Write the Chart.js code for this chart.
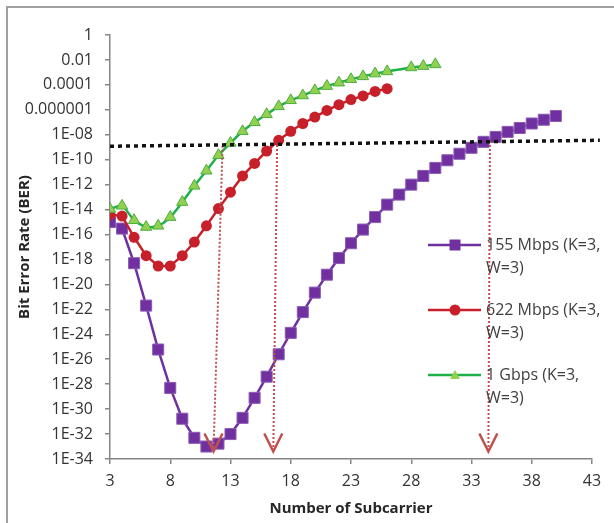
<!DOCTYPE html>
<html>
<head>
<meta charset="utf-8">
<script src="https://cdn.jsdelivr.net/npm/chart.js@4.4.0/dist/chart.umd.min.js"></script>
<style>
  html, body { margin: 0; padding: 0; background: #fff; }
  #wrap { width: 614px; height: 523px; position: relative; }
</style>
</head>
<body>
<div id="wrap"><canvas id="berChart"></canvas></div>
<script>
// Data
const xTicks = [3, 8, 13, 18, 23, 28, 33, 38, 43];
const yTickExps = [0, -2, -4, -6, -8, -10, -12, -14, -16, -18, -20, -22, -24, -26, -28, -30, -32, -34];

const x155 = [3, 4, 5, 6, 7, 8, 9, 10, 11, 12, 13, 14, 15, 16, 17, 18, 19, 20, 21, 22,
              23, 24, 25, 26, 27, 28, 29, 30, 31, 32, 33, 34, 35, 36, 37, 38, 39, 40];
const ber155 = [1e-15, 3e-16, 5e-19, 2e-22, 6e-26, 5e-29, 1.7e-31, 5e-33, 1e-33, 1.7e-33,
                1e-32, 2e-31, 8e-30, 4e-28, 2.5e-26, 1.3e-24, 6e-23, 2.2e-21, 6e-20, 1.3e-18,
                2e-17, 2.5e-16, 2.5e-15, 2.5e-14, 1.6e-13, 1e-12, 5e-12, 2.2e-11, 9e-11, 3e-10,
                9e-10, 2.7e-9, 6.7e-9, 1.7e-8, 3.5e-8, 8e-8, 1.6e-7, 3.2e-7];

const x622 = [3, 4, 5, 6, 7, 8, 9, 10, 11, 12, 13, 14, 15, 16, 17, 18, 19, 20, 21, 22, 23, 24, 25, 26];
const ber622 = [4e-15, 3e-15, 6e-17, 2e-18, 3e-19, 3e-19, 2e-18, 2.5e-17, 5e-16, 1.2e-14,
                2.5e-13, 5e-12, 5e-11, 5e-10, 3.6e-9, 1.9e-8, 8e-8, 2.6e-7, 9e-7, 2.6e-6,
                6.6e-6, 1.3e-5, 3e-5, 5e-5];

const x1g = [3, 4, 5, 6, 7, 8, 9, 10, 11, 12, 13, 14, 15, 16, 17, 18, 19, 20, 21, 22, 23, 24, 25, 26, 28, 29, 30];
const ber1g = [1.1e-14, 2e-14, 1.4e-15, 4e-16, 5e-16, 2.5e-15, 4e-14, 8e-13, 1.3e-11, 2.3e-10,
               2.2e-9, 1.9e-8, 1e-7, 4.4e-7, 1.9e-6, 5.8e-6, 1.4e-5, 3.6e-5, 8e-5, 1.5e-4,
               2.8e-4, 4.8e-4, 8e-4, 1.2e-3, 2.5e-3, 3.2e-3, 4.4e-3];

// threshold line and the three read-off arrows
const thresholdX = [3, 43.65];
const thresholdBer = [1.2e-9, 3.6e-9];
const arrowX = [[12.34, 11.59], [16.87, 16.55], [34.53, 34.4]];
const arrowBer = [[1.3e-9, 4e-34], [1.5e-9, 4e-34], [3.1e-9, 4e-34]];

const seriesNames = [['155 Mbps (K=3,', 'W=3)'], ['622 Mbps (K=3,', 'W=3)'], ['1 Gbps (K=3,', 'W=3)']];

const FONT = "'Open Sans', 'Noto Sans', sans-serif";
const AXIS_GREY = '#868686';
const ARROW_RED = '#c0504d';

const pts = (xs, ys) => xs.map((x, i) => ({ x, y: ys[i] }));

function fmtBer(v) {
    const e = Math.round(Math.log10(v));
    if (e >= -6) return v.toFixed(-e);
    return '1E-' + String(-e).padStart(2, '0');
}

const datasets = [
    {
        label: seriesNames[0].join(' '), legendLines: seriesNames[0],
        data: pts(x155, ber155), order: 3,
        borderColor: '#7030a0', backgroundColor: '#7030a0', borderWidth: 2.5,
        pointStyle: 'rect', pointRadius: 7.8, pointBorderColor: '#8b5bb5', pointBorderWidth: 1
    },
    {
        label: seriesNames[1].join(' '), legendLines: seriesNames[1],
        data: pts(x622, ber622), order: 2,
        borderColor: '#c8202a', backgroundColor: '#c8202a', borderWidth: 2.5,
        pointStyle: 'circle', pointRadius: 5.5, pointBorderWidth: 0
    },
    {
        label: seriesNames[2].join(' '), legendLines: seriesNames[2],
        data: pts(x1g, ber1g), order: 1, tension: 0.25,
        borderColor: '#1fb04a', backgroundColor: '#92d050', borderWidth: 2.5,
        pointStyle: 'triangle', pointRadius: 6.5, pointBorderColor: '#4caf3f', pointBorderWidth: 1
    },
    {
        label: 'threshold', data: pts(thresholdX, thresholdBer), order: 0, clip: false,
        borderColor: '#111', borderWidth: 3.5, borderDash: [4, 4], pointRadius: 0
    }
];
arrowX.forEach((xs, i) => {
    datasets.push({
        label: 'arrow' + i, isArrow: true, data: pts(xs, arrowBer[i]), order: 0,
        borderColor: ARROW_RED, borderWidth: 2, borderDash: [2, 2], pointRadius: 0
    });
});

// border of the picture frame
const framePlugin = {
    id: 'frame',
    beforeDraw(chart) {
        const ctx = chart.ctx;
        ctx.save();
        ctx.fillStyle = '#fff';
        ctx.fillRect(0, 0, chart.width, chart.height);
        ctx.strokeStyle = '#a0a0a0';
        ctx.lineWidth = 2;
        ctx.beginPath();
        ctx.moveTo(7, chart.height);
        ctx.lineTo(7, 7);
        ctx.lineTo(chart.width, 7);
        ctx.stroke();
        ctx.restore();
    }
};

// open V arrowheads at the bottom of the dotted read-off lines
const arrowPlugin = {
    id: 'arrowHeads',
    afterDatasetsDraw(chart) {
        const ctx = chart.ctx;
        ctx.save();
        ctx.strokeStyle = ARROW_RED;
        ctx.lineWidth = 2.5;
        chart.data.datasets.forEach((ds, i) => {
            if (!ds.isArrow) return;
            const meta = chart.getDatasetMeta(i);
            const tip = meta.data[meta.data.length - 1];
            ctx.beginPath();
            ctx.moveTo(tip.x - 9, tip.y - 18);
            ctx.lineTo(tip.x, tip.y);
            ctx.lineTo(tip.x + 9, tip.y - 18);
            ctx.stroke();
        });
        ctx.restore();
    }
};

// legend with wrapped labels, sitting inside the plot on the right
const legendPlugin = {
    id: 'wrapLegend',
    afterDraw(chart) {
        const ctx = chart.ctx;
        ctx.save();
        ctx.font = '16px ' + FONT;
        ctx.textBaseline = 'middle';
        ctx.textAlign = 'left';
        const rows = [245, 310, 375];
        chart.data.datasets.slice(0, 3).forEach((ds, i) => {
            const y = rows[i];
            ctx.strokeStyle = ds.borderColor;
            ctx.lineWidth = ds.borderWidth;
            ctx.setLineDash([]);
            ctx.beginPath();
            ctx.moveTo(428, y);
            ctx.lineTo(481, y);
            ctx.stroke();
            const cx = 455;
            ctx.fillStyle = ds.backgroundColor;
            ctx.beginPath();
            if (ds.pointStyle === 'rect') {
                ctx.rect(cx - 5.5, y - 5.5, 11, 11);
            } else if (ds.pointStyle === 'circle') {
                ctx.arc(cx, y, 5.5, 0, Math.PI * 2);
            } else {
                ctx.moveTo(cx - 5, y + 4);
                ctx.lineTo(cx, y - 5);
                ctx.lineTo(cx + 5, y + 4);
                ctx.closePath();
            }
            ctx.fill();
            ctx.fillStyle = '#404040';
            ds.legendLines.forEach((t, k) => ctx.fillText(t, 486, y + k * 23));
        });
        ctx.restore();
    }
};

new Chart(document.getElementById('berChart'), {
    type: 'line',
    data: { datasets },
    plugins: [framePlugin, arrowPlugin, legendPlugin],
    options: {
        responsive: true,
        maintainAspectRatio: false,
        animation: false,
        layout: { padding: { top: 35, right: 22, left: 0, bottom: 0 } },
        plugins: { legend: { display: false }, tooltip: { enabled: false } },
        scales: {
            x: {
                type: 'linear', min: 3, max: 43,
                afterBuildTicks: s => { s.ticks = xTicks.map(v => ({ value: v })); },
                afterFit: s => { s.height = 64; },
                ticks: { color: '#333', font: { family: FONT, size: 16 }, padding: 8 },
                grid: { drawOnChartArea: false, tickLength: 5, color: AXIS_GREY, lineWidth: 1.5 },
                border: { color: AXIS_GREY, width: 1.5 },
                title: {
                    display: true, text: 'Number of Subcarrier', color: '#262626',
                    font: { family: FONT, size: 15, weight: 'bold' }, padding: { top: 0, bottom: 5 }
                }
            },
            y: {
                type: 'logarithmic', min: 1e-34, max: 1,
                afterBuildTicks: s => { s.ticks = yTickExps.map(e => ({ value: Math.pow(10, e) })); },
                afterFit: s => { s.width = 110; },
                ticks: {
                    color: '#333', font: { family: FONT, size: 16 }, padding: 12,
                    callback: v => fmtBer(v)
                },
                grid: { drawOnChartArea: false, tickLength: 5, color: AXIS_GREY, lineWidth: 1.5 },
                border: { color: AXIS_GREY, width: 1.5 },
                title: {
                    display: true, text: 'Bit Error Rate (BER)', color: '#262626',
                    font: { family: FONT, size: 15, weight: 'bold' }, padding: { top: 16, bottom: 0 }
                }
            }
        }
    }
});
</script>
</body>
</html>
